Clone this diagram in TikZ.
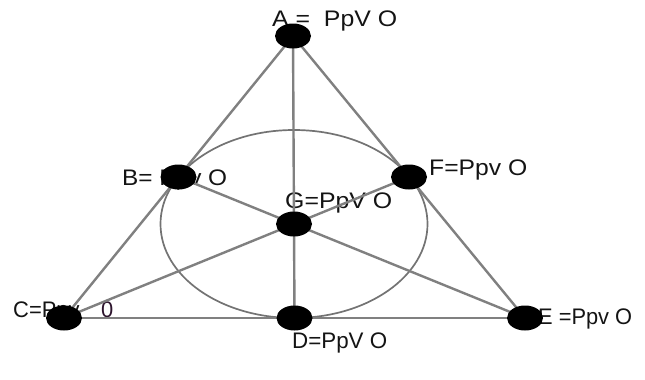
\documentclass[tikz,border=0pt]{standalone}
\usepackage{fontspec}
\setmainfont{Liberation Sans}
\usetikzlibrary{shapes.geometric}
\definecolor{linegray}{RGB}{128,128,128}
\definecolor{circgray}{RGB}{115,115,115}
\definecolor{zerocol}{RGB}{45,20,45}
\definecolor{txt}{RGB}{20,20,20}
\tikzset{
  dotnode/.style={ellipse, fill=black, draw=none, minimum width=36pt, minimum height=25pt, inner sep=0pt},
  edge/.style={draw=linegray, line width=2.4pt},
  lbl/.style={anchor=base west, inner sep=0pt, text=txt, font=\fontsize{22.5}{26}\selectfont}
}
\begin{document}
\begin{tikzpicture}[x=1pt,y=-1pt]
\useasboundingbox[fill=white] (0,0) rectangle (645,380);
% positions
\coordinate (A) at (293,36);
\coordinate (B) at (178.5,177);
\coordinate (C) at (64,318);
\coordinate (D) at (294.5,318);
\coordinate (E) at (525,318);
\coordinate (F) at (409,177);
\coordinate (G) at (294,224);
% labels
\node[lbl] (lA) at (272,27) {\resizebox{125pt}{\height}{A =\ \ PpV O}};
\node[lbl] (lB) at (122,185) {\resizebox{105pt}{\height}{B= Ppv O}};
\node[lbl] (lC) at (13,317) {\resizebox{100pt}{\height}{C=Ppv\hspace{22pt}{\color{zerocol}0}}};
\node[lbl] (lD) at (292,348) {\resizebox{95pt}{\height}{D=PpV O}};
\node[lbl] (lE) at (538,324) {\resizebox{94pt}{\height}{E =Ppv O}};
\node[lbl] (lF) at (429,175) {\resizebox{98pt}{\height}{F=Ppv O}};
\node[lbl] (lG) at (285,208) {\resizebox{107pt}{\height}{G=PpV O}};
% ellipse
\draw[draw=circgray, line width=1.7pt] (G) ellipse (133.5 and 94);
% lines
\draw[edge] (A) -- (C);
\draw[edge] (A) -- (E);
\draw[edge] (C) -- (E);
\draw[edge] (A) -- (D);
\draw[edge] (B) -- (E);
\draw[edge] (F) -- (C);
% dots
\node[dotnode] (dA) at (A) {};
\node[dotnode] (dB) at (B) {};
\node[dotnode] (dC) at (C) {};
\node[dotnode] (dD) at (D) {};
\node[dotnode] (dE) at (E) {};
\node[dotnode] (dF) at (F) {};
\node[dotnode] (dG) at (G) {};
\end{tikzpicture}
\end{document}
